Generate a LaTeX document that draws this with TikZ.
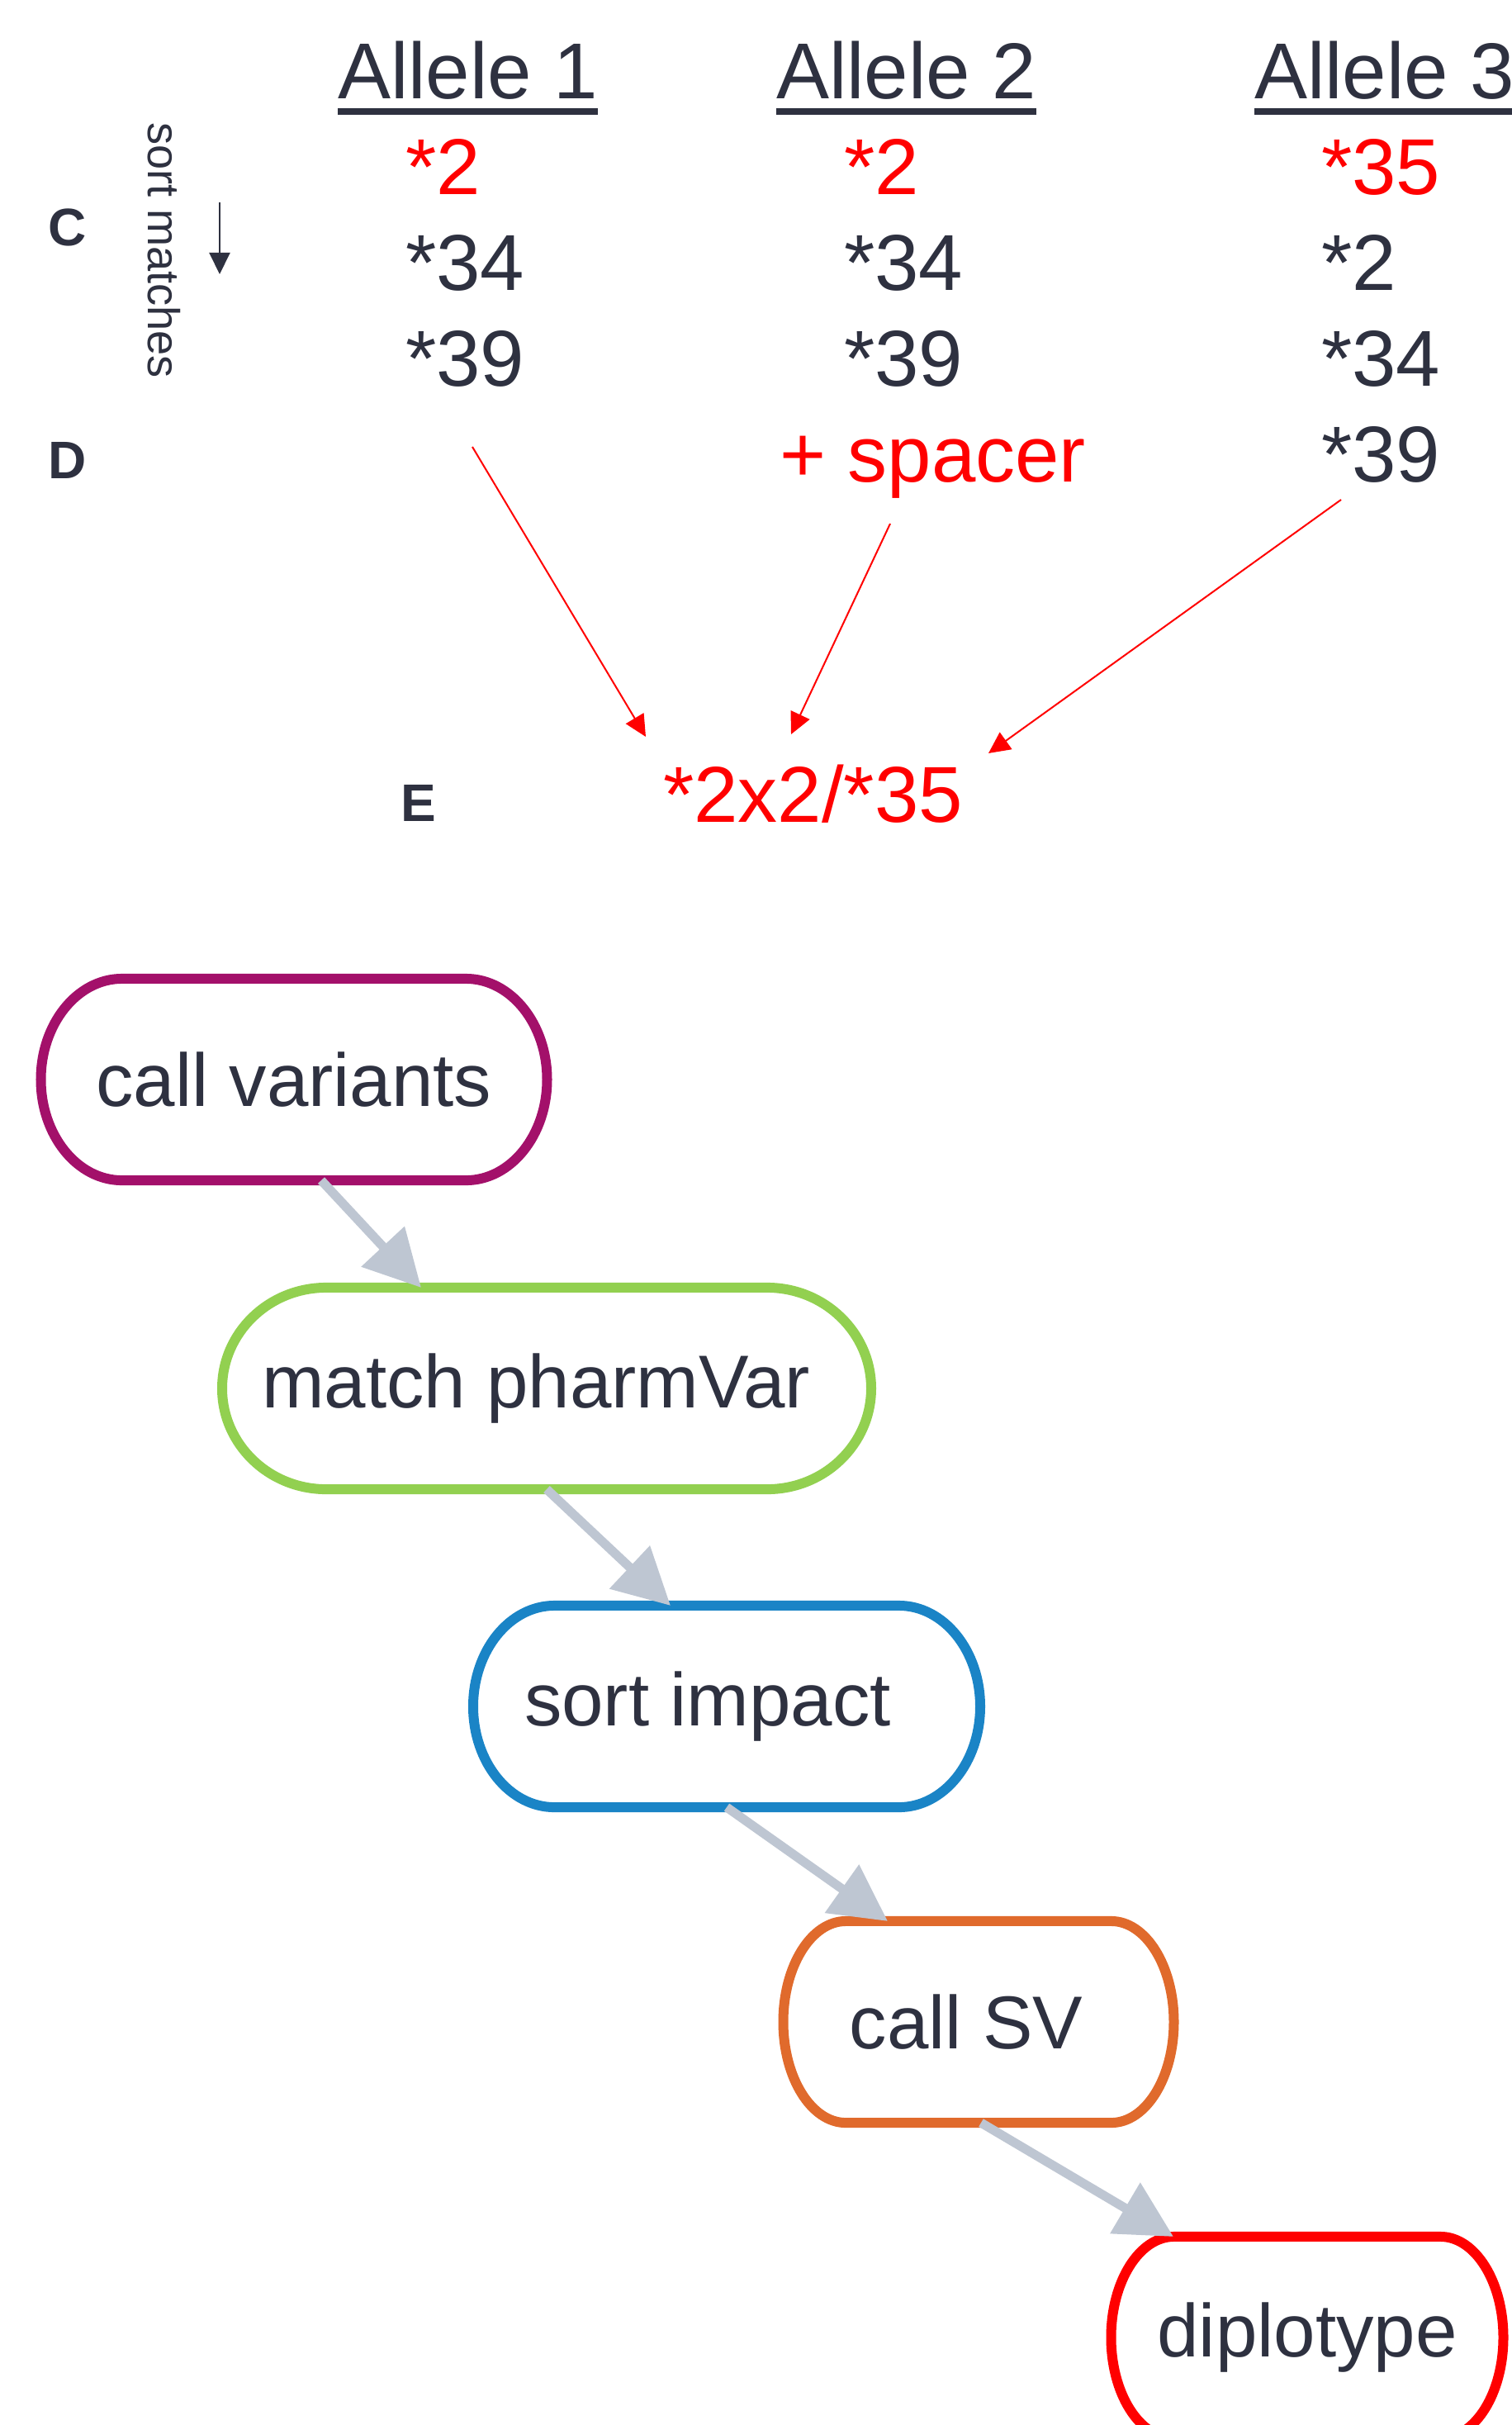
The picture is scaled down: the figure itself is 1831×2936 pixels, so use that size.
\documentclass[tikz,border=0pt]{standalone}
\usepackage{fontspec}
\setmainfont{Liberation Sans}
\usetikzlibrary{arrows.meta,calc}

\definecolor{ink}{HTML}{2E3140}
\definecolor{hitred}{HTML}{FF0000}
\definecolor{flowgrey}{HTML}{BEC6D2}
\definecolor{cvpurple}{HTML}{A3106A}
\definecolor{mpgreen}{HTML}{92D050}
\definecolor{siblue}{HTML}{1A84C6}
\definecolor{svorange}{HTML}{E06A2C}

\begin{document}
\begin{tikzpicture}[x=0.01cm, y=0.01cm,
    every node/.style={inner sep=0pt, outer sep=0pt, text=ink},
    allele/.style={anchor=base west, font=\fontsize{27.3}{32}\selectfont},
    hit/.style={allele, text=hitred},
    panel/.style={anchor=base west, font=\bfseries\fontsize{18.2}{22}\selectfont},
    stepnode/.style={minimum height=2.44cm, font=\fontsize{25.8}{30}\selectfont},
    flow/.style={draw=flowgrey, line width=0.11cm, -{Triangle[length=0.68cm, width=0.69cm]}},
    pick/.style={draw=hitred, line width=0.02cm, -{Triangle[length=0.26cm, width=0.25cm]}},
  ]
    \useasboundingbox (0,0) rectangle (1831,-2936);
    \clip (0,0) rectangle (1831,-2936);

    % column heads
    \foreach \i/\x in {1/409, 2/940, 3/1519} {
        \node[allele] (h\i) at (\x,-120) {Allele \i};
        \draw[ink, line width=0.07cm]
          ($(h\i.base west)+(0,-15)$) -- ($(h\i.base east)+(0,-15)$);
    }

    % panel letters
    \node[panel] (pc) at (58,-297) {C};
    \node[panel] (pd) at (58,-579) {D};
    \node[panel] (pe) at (485,-994) {E};

    \node[rotate=-90, anchor=base west,
          font=\fontsize{15.4}{18}\selectfont] (sortlab) at (179,-148) {sort matches};
    \coordinate (sorttop) at (266,-245);
    \coordinate (sortbot) at (266,-332);
    \draw[ink, line width=0.02cm, -{Triangle[length=0.26cm, width=0.25cm]}] (sorttop) -- (sortbot);

    % star alleles per column
    \node[hit]    (a11) at (491,-235)  {*2};
    \node[allele] (a12) at (491,-351)  {*34};
    \node[allele] (a13) at (491,-467)  {*39};
    \node[hit]    (a21) at (1022,-235) {*2};
    \node[allele] (a22) at (1022,-351) {*34};
    \node[allele] (a23) at (1022,-467) {*39};
    \node[hit]    (spacer) at (944,-583) {+ spacer};
    \node[hit]    (a31) at (1600,-235) {*35};
    \node[allele] (a32) at (1600,-351) {*2};
    \node[allele] (a33) at (1600,-467) {*34};
    \node[allele] (a34) at (1600,-583) {*39};

    \node[hit] (result) at (803,-995) {*2x2/*35};

    \draw[pick] ($(a13.base west)+(81,-74)$) -- ($(result.base west)+(-21,103)$);
    \draw[pick] ($(spacer.base west)+(134,-51)$) -- ($(result.base west)+(155,106)$);
    \draw[pick] ($(a34.base west)+(24,-22)$) -- ($(result.base west)+(394,83)$);

    % pipeline steps (\dk nudges the label left)
    \foreach \nm/\cx/\cy/\w/\col/\dk/\txt in {
        cv/356/-1307/613/cvpurple/0/call variants,
        mp/662/-1681/786/mpgreen/-0.26/match pharmVar,
        si/880/-2066/614/siblue/-0.46/sort impact,
        sv/1185/-2448/473/svorange/-0.3/call SV,
        dt/1583/-2830/475/hitred/0/diplotype%
      } {
        \pgfmathsetmacro\rx{0.0016*\w}
        \node[stepnode, minimum width=\w*0.01cm] (\nm) at (\cx,\cy) {\kern\dk cm\txt};
        \draw[draw=\col, line width=0.12cm]
          ([xshift=\rx cm]\nm.north west) -- ([xshift=-\rx cm]\nm.north east)
          arc[start angle=90, end angle=-90, x radius=\rx cm, y radius=1.22cm]
          -- ([xshift=\rx cm]\nm.south west)
          arc[start angle=270, end angle=90, x radius=\rx cm, y radius=1.22cm]
          -- cycle;
    }

    \draw[flow] ($(cv.south)+(33,0)$) -- ($(mp.north)+(-152,0)$);
    \draw[flow] (mp.south) -- ($(si.north)+(-68,0)$);
    \draw[flow] (si.south) -- ($(sv.north)+(-110,0)$);
    \draw[flow] ($(sv.south)+(3,0)$) -- ($(dt.north)+(-162,0)$);
\end{tikzpicture}
\end{document}
